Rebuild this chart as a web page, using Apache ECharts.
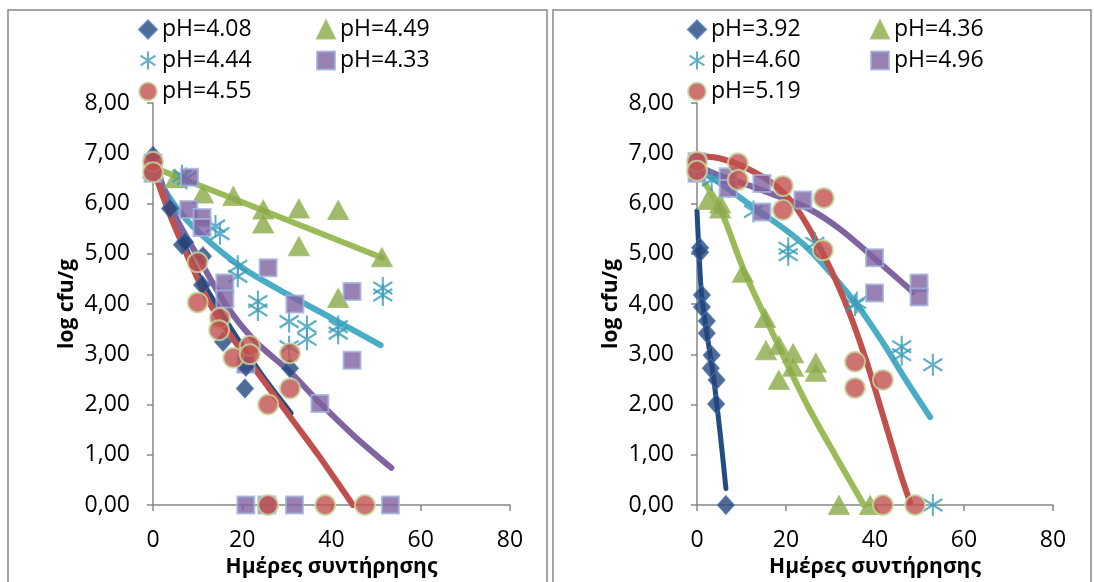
<!DOCTYPE html>
<html>
<head>
<meta charset="utf-8">
<script src="https://cdn.jsdelivr.net/npm/echarts@6/dist/echarts.min.js"></script>
<style>
  html, body { margin: 0; background: #fff; }
  #chart { width: 1094px; height: 582px; }
</style>
</head>
<body>
<div id="chart"></div>
<script>
// x axis ticks (days) and y axis ticks (log cfu/g)
const xTicks = [0, 20, 40, 60, 80]
const yTicks = [0, 1, 2, 3, 4, 5, 6, 7, 8]

// left panel
const leftNames = ['pH=4.08', 'pH=4.49', 'pH=4.44', 'pH=4.33', 'pH=4.55']
const ph408 = [[0, 6.95], [3.8, 5.9], [6.5, 5.18], [7.2, 5.23], [11.2, 4.95], [11, 4.38], [15.7, 3.25], [20.8, 2.75], [20.6, 2.32], [30.7, 2.72]]
const ph449 = [[0, 6.7], [5, 6.5], [11.2, 6.2], [18, 6.15], [24.7, 5.88], [24.7, 5.6], [32.7, 5.9], [32.7, 5.15], [41.5, 5.87], [41.5, 4.12], [51.3, 4.93]]
const ph444 = [[0, 6.7], [6.5, 6.55], [7.5, 6.5], [14, 5.55], [15, 5.4], [19, 4.75], [19, 4.55], [23.5, 4.05], [23.5, 3.88], [30.5, 3.65], [30.5, 3.15], [34.5, 3.55], [34.5, 3.3], [41.5, 3.55], [41.5, 3.42], [51.5, 4.32], [51.5, 4.18]]
const ph433 = [[0, 6.8], [0, 6.6], [8.2, 6.52], [8, 5.88], [11, 5.72], [11, 5.52], [16.1, 4.42], [16.1, 4.1], [25.8, 4.72], [20.8, 2.8], [31.8, 4.0], [37.4, 2.02], [44.6, 4.25], [44.6, 2.88], [20.8, 0], [25.5, 0], [31.7, 0], [53.2, 0]]
const ph455 = [[0, 6.83], [0, 6.62], [10, 4.83], [10, 4.03], [15, 3.72], [14.8, 3.48], [18, 2.93], [21.7, 3.17], [21.7, 3.0], [25.8, 2.0], [30.7, 3.02], [30.7, 2.32], [25.8, 0], [38.6, 0], [47.5, 0]]
// fitted curves, left panel
const fit408 = [[0, 6.95], [5, 5.6], [10, 4.6], [15, 3.85], [20, 3.15], [25, 2.5], [30.8, 1.83]]
const fit449 = [[0, 6.72], [25, 5.85], [51.3, 4.92]]
const fit444 = [[0, 6.65], [5, 5.95], [10, 5.45], [20, 4.72], [30, 4.2], [40, 3.72], [51, 3.18]]
const fit433 = [[0, 6.85], [5, 5.75], [10, 4.95], [16.6, 3.95], [23, 3.25], [30.7, 2.65], [37.4, 2.03], [45, 1.38], [53.4, 0.74]]
const fit455 = [[0, 6.8], [1, 6.45], [5.3, 5.45], [12.8, 4.0], [20, 3.05], [25.8, 2.35], [31, 1.72], [37, 1.0], [44.8, 0]]

// right panel
const rightNames = ['pH=3.92', 'pH=4.36', 'pH=4.60', 'pH=4.96', 'pH=5.19']
const ph392 = [[0.7, 5.12], [0.7, 5.03], [1.1, 4.18], [1.1, 3.94], [2.2, 3.66], [2.2, 3.42], [3.3, 2.98], [3.1, 2.72], [4.4, 2.49], [4.3, 2.01], [6.5, 0]]
const ph436 = [[2.5, 6.07], [5.2, 6.0], [5.2, 5.9], [10.3, 4.62], [15.3, 3.72], [15.5, 3.08], [18.4, 3.18], [18.4, 2.49], [21.6, 3.02], [21.6, 2.75], [26.7, 2.83], [26.7, 2.65], [31.9, 0], [38.9, 0]]
const ph460 = [[0, 6.7], [3.3, 6.47], [12.7, 5.84], [20.5, 5.11], [20.5, 4.98], [26.5, 5.21], [35.5, 3.98], [35.9, 4.03], [46, 3.15], [46, 2.99], [53, 2.79], [53, 0]]
const ph496 = [[0, 6.83], [0, 6.6], [7, 6.53], [7, 6.3], [14.6, 6.4], [14.6, 5.83], [23.8, 6.07], [39.9, 4.92], [39.9, 4.22], [49.9, 4.42], [49.9, 4.14]]
const ph519 = [[0, 6.83], [0, 6.65], [9.2, 6.8], [9.2, 6.47], [19.3, 6.35], [19.3, 5.87], [28.5, 6.11], [28.3, 5.07], [35.5, 2.85], [35.5, 2.33], [41.8, 2.49], [41.8, 0], [49, 0]]
// fitted curves, right panel
const fit392 = [[0, 5.85], [0.4, 5.1], [1.0, 4.2], [1.6, 3.8], [2.5, 3.25], [3.7, 2.55], [5.2, 1.43], [6.5, 0.33]]
const fit436 = [[1.8, 6.4], [5.2, 5.9], [10.4, 4.7], [15, 3.8], [20, 2.85], [25, 1.95], [31, 1.0], [37.5, 0]]
const fit460 = [[0, 6.7], [5, 6.42], [12, 5.97], [20, 5.47], [25, 5.1], [30, 4.62], [36, 3.98], [42, 3.2], [47, 2.48], [52.4, 1.75]]
const fit496 = [[0, 6.75], [5.2, 6.55], [12, 6.35], [18, 6.15], [25, 5.9], [32, 5.5], [40, 4.9], [48.5, 4.24]]
const fit519 = [[0, 6.95], [5, 6.9], [10, 6.75], [17, 6.4], [22, 5.95], [26.5, 5.3], [30, 4.7], [34, 3.88], [38, 2.88], [41.8, 1.78], [45.6, 0.66], [47.9, 0.05]]

const font = "'Open Sans', 'Noto Sans', sans-serif"
const axisGrey = '#868686'

// marker styles: diamond, triangle, asterisk, square, circle
const markers = [
  { symbol: 'diamond', symbolSize: [17, 19], itemStyle: { color: '#23467c', borderColor: '#4a76b4', borderWidth: 1 } },
  { symbol: 'triangle', symbolSize: [21, 19], itemStyle: { color: '#8aa94a', borderColor: '#9dbb5f', borderWidth: 1 } },
  { symbol: 'path://M10,0L10,22M1,5L19,17M1,17L19,5', symbolSize: [19, 22], itemStyle: { color: 'none', borderColor: '#3a9cb9', borderWidth: 2.2 } },
  { symbol: 'rect', symbolSize: 17, itemStyle: { color: '#7f62a1', borderColor: '#9fb3dc', borderWidth: 2 } },
  { symbol: 'circle', symbolSize: 20, itemStyle: { color: '#c0504d', borderColor: '#c6d99e', borderWidth: 2 } }
]
const lineColors = ['#234b84', '#9bbb59', '#4bacc6', '#8064a2', '#c0504d']

function scatter(name, data, k, idx) {
  return Object.assign({
    name: name,
    type: 'scatter',
    xAxisIndex: idx,
    yAxisIndex: idx,
    data: data,
    z: 3
  }, markers[k])
}

function fit(data, k, idx, width) {
  return {
    name: 'fit' + idx + k,
    type: 'line',
    xAxisIndex: idx,
    yAxisIndex: idx,
    data: data,
    smooth: 0.3,
    symbol: 'none',
    z: 2,
    lineStyle: { color: lineColors[k], width: width || 6, cap: 'round', join: 'round' }
  }
}

function xAxis(idx) {
  return {
    gridIndex: idx,
    type: 'value',
    min: xTicks[0],
    max: xTicks[xTicks.length - 1],
    interval: 20,
    name: 'Ημέρες συντήρησης',
    nameLocation: 'middle',
    nameGap: 52,
    nameTextStyle: { fontFamily: font, fontSize: 21, fontWeight: 'bold', color: '#000' },
    axisLine: { onZero: false, lineStyle: { color: axisGrey, width: 1.5 } },
    axisTick: { inside: false, length: 6, lineStyle: { color: axisGrey, width: 1.5 } },
    axisLabel: { margin: 24, fontFamily: font, fontSize: 23, color: '#000' },
    splitLine: { show: false }
  }
}

function yAxis(idx) {
  return {
    gridIndex: idx,
    type: 'value',
    min: yTicks[0],
    max: yTicks[yTicks.length - 1],
    interval: 1,
    name: 'log cfu/g',
    nameLocation: 'middle',
    nameGap: 75,
    nameTextStyle: { fontFamily: font, fontSize: 21, fontWeight: 'bold', color: '#000' },
    axisLine: { show: true, lineStyle: { color: axisGrey, width: 1.5 } },
    axisTick: { show: true, inside: false, length: 6, lineStyle: { color: axisGrey, width: 1.5 } },
    axisLabel: {
      margin: 23,
      fontFamily: font,
      fontSize: 23,
      color: '#000',
      formatter: function (v) { return v.toFixed(2).replace('.', ',') }
    },
    splitLine: { show: false }
  }
}

function legend(left, names) {
  return {
    left: left,
    top: 13,
    orient: 'vertical',
    selectedMode: false,
    data: names,
    itemWidth: 18,
    itemHeight: 18,
    itemGap: 8,
    textStyle: { fontFamily: font, fontSize: 23, lineHeight: 18, color: '#000' }
  }
}

const chart = echarts.init(document.getElementById('chart'), null, { renderer: 'canvas' })

const series = [
  fit(fit408, 0, 0), fit(fit449, 1, 0), fit(fit444, 2, 0), fit(fit433, 3, 0), fit(fit455, 4, 0),
  fit(fit392, 0, 1, 5), fit(fit436, 1, 1), fit(fit460, 2, 1), fit(fit496, 3, 1), fit(fit519, 4, 1),
  scatter(leftNames[1], ph449, 1, 0),
  scatter(leftNames[2], ph444, 2, 0),
  scatter(leftNames[3], ph433, 3, 0),
  scatter(leftNames[0], ph408, 0, 0),
  scatter(leftNames[4], ph455, 4, 0),
  scatter(rightNames[0], ph392, 0, 1),
  scatter(rightNames[1], ph436, 1, 1),
  scatter(rightNames[2], ph460, 2, 1),
  scatter(rightNames[3], ph496, 3, 1),
  scatter(rightNames[4], ph519, 4, 1)
]

chart.setOption({
  backgroundColor: '#fff',
  animation: false,
  graphic: [
    { type: 'rect', shape: { x: 8, y: 10, width: 539, height: 580 }, style: { fill: 'none', stroke: axisGrey, lineWidth: 1.5 }, z: -1 },
    { type: 'rect', shape: { x: 553, y: 10, width: 538, height: 580 }, style: { fill: 'none', stroke: axisGrey, lineWidth: 1.5 }, z: -1 }
  ],
  legend: [
    legend(133, [leftNames[0], leftNames[2], leftNames[4]]),
    legend(311, [leftNames[1], leftNames[3]]),
    legend(682, [rightNames[0], rightNames[2], rightNames[4]]),
    legend(865, [rightNames[1], rightNames[3]])
  ],
  grid: [
    { left: 153, right: 584, top: 103, bottom: 77, outerBoundsMode: 'none', containLabel: false },
    { left: 697, right: 41, top: 103, bottom: 77, outerBoundsMode: 'none', containLabel: false }
  ],
  xAxis: [xAxis(0), xAxis(1)],
  yAxis: [yAxis(0), yAxis(1)],
  series: series
})
</script>
</body>
</html>
